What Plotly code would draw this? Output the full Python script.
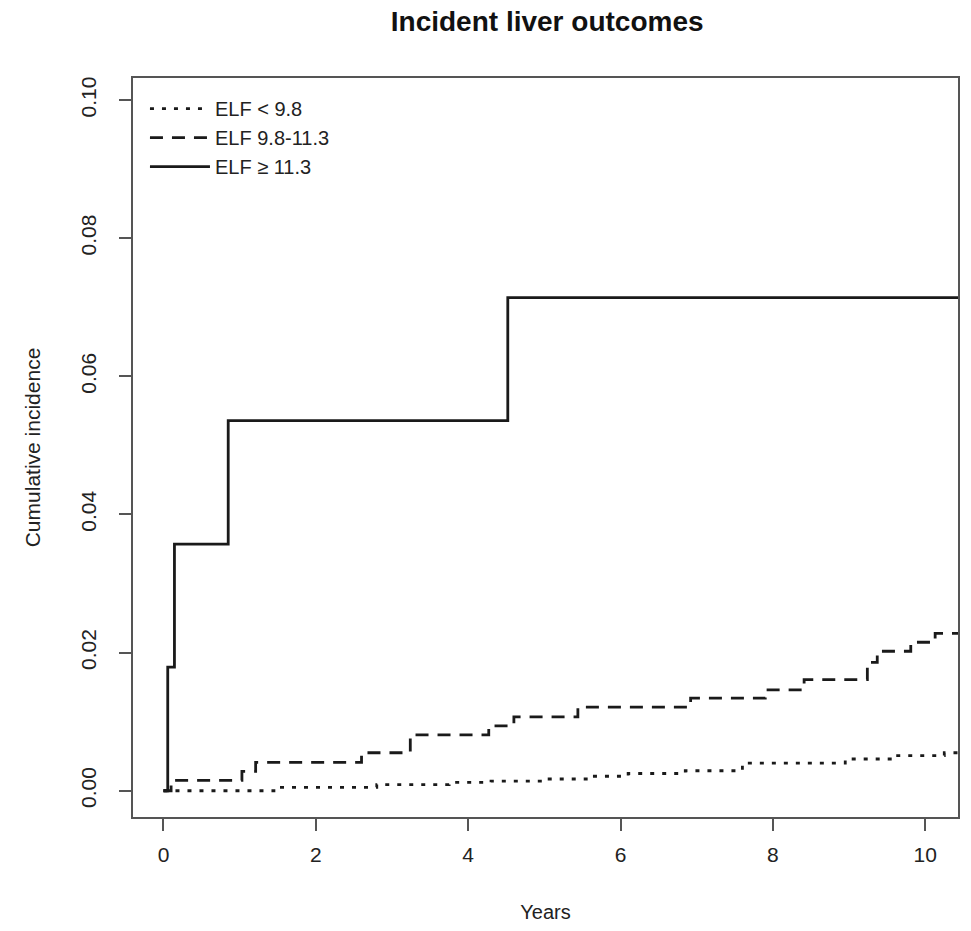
import plotly.graph_objects as go

# Data (years, cumulative incidence)
follow_up_end = 10.6

low_time = [0, 1.45, 2.8, 3.75, 4.3, 5.0, 5.55, 6.1, 6.85, 7.6, 8.95, 9.6, 10.25]
low_ci = [0, 0.0005, 0.0009, 0.0012, 0.0014, 0.0017, 0.0021, 0.0025, 0.0029, 0.0040, 0.0046, 0.0051, 0.0055]

mid_time = [0, 0.1, 1.03, 1.21, 2.6, 3.24, 4.27, 4.6, 5.44, 6.92, 7.9, 8.41, 9.24, 9.37, 9.81, 10.13]
mid_ci = [0, 0.0015, 0.0028, 0.0041, 0.0055, 0.0081, 0.0094, 0.0107, 0.0121, 0.0134, 0.0146, 0.0161, 0.0186, 0.0202, 0.0215, 0.0228]

high_time = [0, 0.056, 0.144, 0.85, 4.52]
high_ci = [0, 0.0179, 0.0357, 0.0536, 0.0714]

labels = ["ELF < 9.8", "ELF 9.8-11.3", "ELF \u2265 11.3"]
x_ticks = [0, 2, 4, 6, 8, 10]
y_ticks = [0.00, 0.02, 0.04, 0.06, 0.08, 0.10]
y_tick_text = ["0.00", "0.02", "0.04", "0.06", "0.08", "0.10"]

ink = "#1a1a1a"
fig = go.Figure()
series = [
    (low_time, low_ci, labels[0], "4px,8px"),
    (mid_time, mid_ci, labels[1], "13px,9px"),
    (high_time, high_ci, labels[2], "solid"),
]
for t, v, name, dash in series:
    fig.add_trace(go.Scatter(
        x=list(t) + [follow_up_end], y=list(v) + [v[-1]],
        mode="lines", name=name, line_shape="hv",
        line=dict(color=ink, width=2.8, dash=dash),
    ))

font = "Liberation Sans, Arial, sans-serif"
fig.update_layout(
    width=971, height=931,
    margin=dict(l=133, r=11, t=78, b=113),
    paper_bgcolor="white", plot_bgcolor="white",
    font=dict(family=font, size=20, color="#222"),
    title=dict(text="<b>Incident liver outcomes</b>", x=0.5635, xanchor="center",
               y=0.977, yanchor="middle", font=dict(size=28, color="#111")),
    showlegend=True,
    legend=dict(x=0.0145, y=0.985, xanchor="left", yanchor="top",
                itemwidth=60,
                bgcolor="rgba(0,0,0,0)", font=dict(size=20, color="#222"),
                tracegroupgap=0),
)
fig.update_xaxes(
    range=[-0.4, 10.43], tickvals=x_ticks, ticktext=[str(v) for v in x_ticks],
    showgrid=False, zeroline=False, showline=True, mirror=True,
    linecolor="#555", linewidth=2, ticks="outside", ticklen=12, tickwidth=1.5,
    tickcolor="#555", tickfont=dict(size=21), ticklabelstandoff=6,
    title=dict(text="Years", font=dict(size=20), standoff=40),
)
fig.update_yaxes(
    range=[-0.0038, 0.1032], tickvals=y_ticks, ticktext=y_tick_text,
    showgrid=False, zeroline=False, showline=True, mirror=True,
    linecolor="#555", linewidth=2, ticks="outside", ticklen=12, tickwidth=1.5,
    tickcolor="#555", tickangle=-90, tickfont=dict(size=21), ticklabelstandoff=15,
    title=dict(text="Cumulative incidence", font=dict(size=21), standoff=30),
)

fig.write_html("out.html")
